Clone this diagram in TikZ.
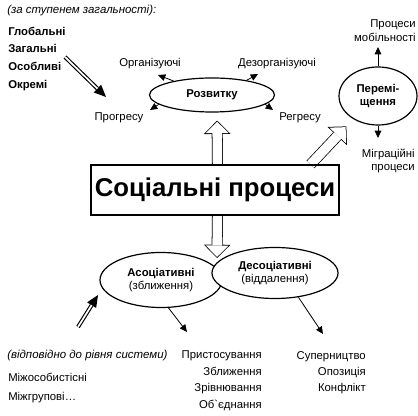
\documentclass[tikz,border=0pt]{standalone}
\usepackage{fontspec}
\setmainfont{Liberation Sans}
\usetikzlibrary{arrows.meta,calc,backgrounds,shapes.geometric}

% one pixel of the picture
\newcommand{\px}{0.75pt}

\tikzset{
  lines/.style={inner sep=0pt, align=right, font=\fontsize{8.5}{10}\selectfont},
  lbl/.style={inner sep=0pt, text height=6.3pt, text depth=1.7pt, font=\fontsize{8.5}{10}\selectfont},
  lblb/.style={lbl, font=\fontsize{8.5}{10}\selectfont\bfseries},
  lbli/.style={lbl, font=\fontsize{8.6}{10}\selectfont\itshape},
  oval/.style={ellipse, draw, line width=0.9pt, inner sep=0pt, align=center, font=\fontsize{8.5}{10}\selectfont},
  arr/.style={line width=0.6pt, -{Triangle[length=5.5pt,width=5pt]}},
}

% hollow (outlined) arrow: [gap]{from}{to}
\newcommand{\hollowarrow}[3][0pt]{%
  \draw[line width=8.25pt, shorten >=#1,
        -{Triangle[length=10pt,width=20pt,line width=0pt]}] #2 -- #3;
  \draw[white, line width=7.1pt, shorten >={#1+0.8pt},
        -{Triangle[length=8.6pt,width=17.2pt,line width=0pt]}] #2 -- #3;}

% double-lined arrow with a black head
\newcommand{\dblarrow}[2]{%
  \draw[line width=3pt, -{Triangle[length=9pt,width=8pt,line width=0pt]}] #1 -- #2;
  \draw[white, line width=1.3pt, shorten >=9pt] #1 -- #2;}

\begin{document}
\begin{tikzpicture}[x=0.75pt,y=-0.75pt]
    \useasboundingbox (0,0) rectangle (418,416);

    % Levels of generality:
    \node[lbli, anchor=west] (scale) at (7,10) {(за ступенем загальності):};
    \foreach \name [count=\i] in {Глобальні,Загальні,Особливі,Окремі}
        \node[lblb, anchor=west] (lvl\i) at (8,14.3+17.7*\i) {\name};

    % Development:
    \node[oval, minimum width=125*\px, minimum height=34*\px, font=\fontsize{8.5}{10}\selectfont\bfseries] (dev) at (212,95) {Розвитку};
    \node[lbl] (org) at (150,63) {Організуючі};
    \node[lbl] (dezorg) at (277,63) {Дезорганізуючі};
    \node[lbl] (progr) at (119,117) {Прогресу};
    \node[lbl] (regr) at (300,117) {Регресу};
    \coordinate (orgtip) at (158,75);
    \coordinate (dezorgtip) at (258,74);
    \coordinate (progrtip) at (150,110);
    \coordinate (regrtip) at (273,110);
    \draw[arr] (dev.160) -- (orgtip);
    \draw[arr] (dev.23) -- (dezorgtip);
    \draw[arr] (dev.190) -- (progrtip);
    \draw[arr] (dev.-10) -- (regrtip);

    % Movement:
    \node[oval, minimum width=78*\px, minimum height=58*\px, font=\fontsize{8.5}{9.75}\selectfont\bfseries] (move) at (378,96) {Перемі-\\щення};
    \node[lines, anchor=east, font=\fontsize{8.5}{10.5}\selectfont] (mob) at (416,31) {Процеси\\мобільності};
    \node[lines, anchor=east, font=\fontsize{8.5}{9.5}\selectfont] (migr) at (415,161) {Міграційні\\процеси};
    \coordinate (mobtip) at (378,47);
    \coordinate (migrtip) at (378,138);
    \draw[arr] (move.north) -- (mobtip);
    \draw[arr] (move.south) -- (migrtip);

    % Main box:
    \node[draw, line width=0.8pt, minimum width=248*\px, minimum height=50*\px, inner sep=0pt, font=\fontsize{19.3}{22}\selectfont\bfseries] (soc) at (215,190) {Соціальні процеси};

    % Interaction:
    \node[oval, minimum width=122*\px, minimum height=55*\px] (assoc) at (161,280) {\textbf{Асоціативні}\\(зближення)};
    \node[oval, fill=white, minimum width=126*\px, minimum height=51*\px] (dissoc) at (275,273) {\textbf{Десоціативні}\\(віддалення)};
    \coordinate (assoctip) at (187,332);
    \coordinate (dissoctip) at (323,334);
    \draw[arr] (assoc.285) -- (assoctip);
    \draw[arr] (dissoc.314) -- (dissoctip);

    % Hollow arrows behind the nodes:
    \coordinate (dntip) at (217,258);
    \begin{scope}[on background layer]
        \hollowarrow[8*\px]{($(soc.north)+(2.5,0)$)}{($(dev.south)+(5,0)$)}
        \hollowarrow{($(soc.south)+(2.5,0)$)}{(dntip)}
        \hollowarrow[10*\px]{($(soc.north east)+(-29,0)$)}{(move.223)}
    \end{scope}

    % Double arrows:
    \coordinate (lvlarr) at (65,57);
    \coordinate (lvltip) at (106,97);
    \coordinate (sysarr) at (78,327);
    \coordinate (systip) at (98,295);
    \dblarrow{(lvlarr)}{(lvltip)}
    \dblarrow{(sysarr)}{(systip)}

    % System levels:
    \node[lbli, anchor=west] (syslevel) at (7,355) {(відповідно до рівня системи)};
    \node[lbl, anchor=west] (pers) at (8,378) {Міжособистісні};
    \node[lbl, anchor=west] (grp) at (8,397) {Міжгрупові…};

    % Forms:
    \foreach \name/\y [count=\i] in {Пристосування/355,Зближення/372,Зрівнювання/388,Об\textasciigrave єднання/405}
        \node[lbl, anchor=east] (conv\i) at (262,\y) {\name};
    \foreach \name/\y [count=\i] in {Суперництво/356,Опозиція/372,Конфлікт/388}
        \node[lbl, anchor=east] (div\i) at (366,\y) {\name};
\end{tikzpicture}
\end{document}
